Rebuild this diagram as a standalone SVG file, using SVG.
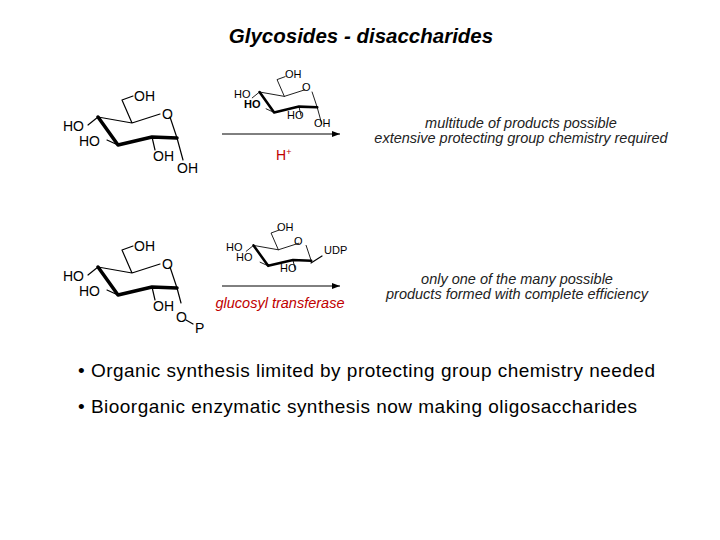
<svg xmlns="http://www.w3.org/2000/svg" width="720" height="540" viewBox="0 0 720 540">
<style>
.b{stroke:#000;fill:none;stroke-width:1.2;stroke-linecap:round;stroke-linejoin:round}
.w{stroke:#000;fill:none;stroke-width:3.5;stroke-linecap:round;stroke-linejoin:round}
.t{font-family:"Liberation Sans",Arial,sans-serif;font-size:14px;fill:#000}
.s{font-family:"Liberation Sans",Arial,sans-serif;font-size:11px;fill:#000}
.i{font-family:"Liberation Sans",Arial,sans-serif;font-size:14.5px;font-style:italic;fill:#222}
.r{font-family:"Liberation Sans",Arial,sans-serif;fill:#c00000}
.u{font-family:"Liberation Sans",Arial,sans-serif;font-size:19px;fill:#000}
</style>
<defs>
<marker id="ah" markerWidth="8" markerHeight="6" refX="8" refY="3" orient="auto" markerUnits="userSpaceOnUse"><path d="M0,0 L8,3 L0,6 z" fill="#000"/></marker>
<g id="ring">
<path class="b" d="M88,125 L98,117 L132,123 L160,114 M170,117 L177,138 M98,117 L118,145 M132,123 L122,100 L133,96 M107,140 L118,145 M152,137 L155,150 M177,138 L183,160"/>
<path class="w" d="M98,117 L118,145 L152,137 L177,138"/>
</g>
<g id="ringP">
<path class="b" d="M88,125 L98,117 L132,123 L160,114 M170,117 L177,138 M98,117 L118,145 M132,123 L122,100 L133,96 M107,140 L118,145 M152,137 L155,150"/>
<path class="w" d="M98,117 L118,145 L152,137 L177,138"/>
</g>
</defs>
<text x="361" y="43" text-anchor="middle" font-family="Liberation Sans,Arial,sans-serif" font-size="20.5" font-weight="bold" font-style="italic">Glycosides - disaccharides</text>
<g id="glucose1">
<use href="#ring"/>
<text class="t" x="134" y="101">OH</text>
<text class="t" x="162" y="119">O</text>
<text class="t" x="63" y="131">HO</text>
<text class="t" x="79" y="146">HO</text>
<text class="t" x="153" y="161">OH</text>
<text class="t" x="177" y="173">OH</text>
</g>
<g id="glucose2">
<g transform="translate(188,6.6) scale(0.73)"><use href="#ring"/></g>
<text class="s" x="285" y="78">OH</text>
<text class="s" x="302" y="91">O</text>
<text class="s" x="234" y="98">HO</text>
<text class="s" x="244" y="108" font-weight="bold">HO</text>
<text class="s" x="287" y="119">HO</text>
<text class="s" x="314" y="127">OH</text>
</g>
<g id="glucose3">
<use href="#ringP" transform="translate(0,150)"/>
<path class="b" d="M177,288 L181,303"/>
<text class="t" x="134" y="251">OH</text>
<text class="t" x="162" y="269">O</text>
<text class="t" x="63" y="281">HO</text>
<text class="t" x="79" y="296">HO</text>
<text class="t" x="153" y="311">OH</text>
<text class="t" x="176" y="322">O</text>
<path class="b" d="M186,320 L193,324"/>
<text class="t" x="195" y="333">P</text>
</g>
<g id="glucose4">
<g transform="translate(182,160) scale(0.73)"><use href="#ringP"/></g>
<path class="b" d="M311,263 L322,256"/>
<text class="s" x="277" y="231">OH</text>
<text class="s" x="294" y="245">O</text>
<text class="s" x="226" y="251">HO</text>
<text class="s" x="236" y="261">HO</text>
<text class="s" x="280" y="272">HO</text>
<text class="s" x="324" y="254">UDP</text>
</g>
<g id="connectors">
<line x1="222" y1="134" x2="340" y2="134" stroke="#000" stroke-width="1" marker-end="url(#ah)"/>
<line x1="222" y1="286" x2="340" y2="286" stroke="#000" stroke-width="1" marker-end="url(#ah)"/>
</g>
<text class="r" x="276" y="160" font-size="14">H<tspan font-size="9" dy="-5">+</tspan></text>
<text class="r" x="280" y="308" text-anchor="middle" font-size="14.5" font-style="italic">glucosyl transferase</text>
<text class="i" x="521" y="128" text-anchor="middle">multitude of products possible</text>
<text class="i" x="521" y="143" text-anchor="middle">extensive protecting group chemistry required</text>
<text class="i" x="517" y="284" text-anchor="middle">only one of the many possible</text>
<text class="i" x="517" y="299" text-anchor="middle">products formed with complete efficiency</text>
<text class="u" x="78" y="377" textLength="577">• Organic synthesis limited by protecting group chemistry needed</text>
<text class="u" x="78" y="413" textLength="559">• Bioorganic enzymatic synthesis now making oligosaccharides</text>
</svg>
